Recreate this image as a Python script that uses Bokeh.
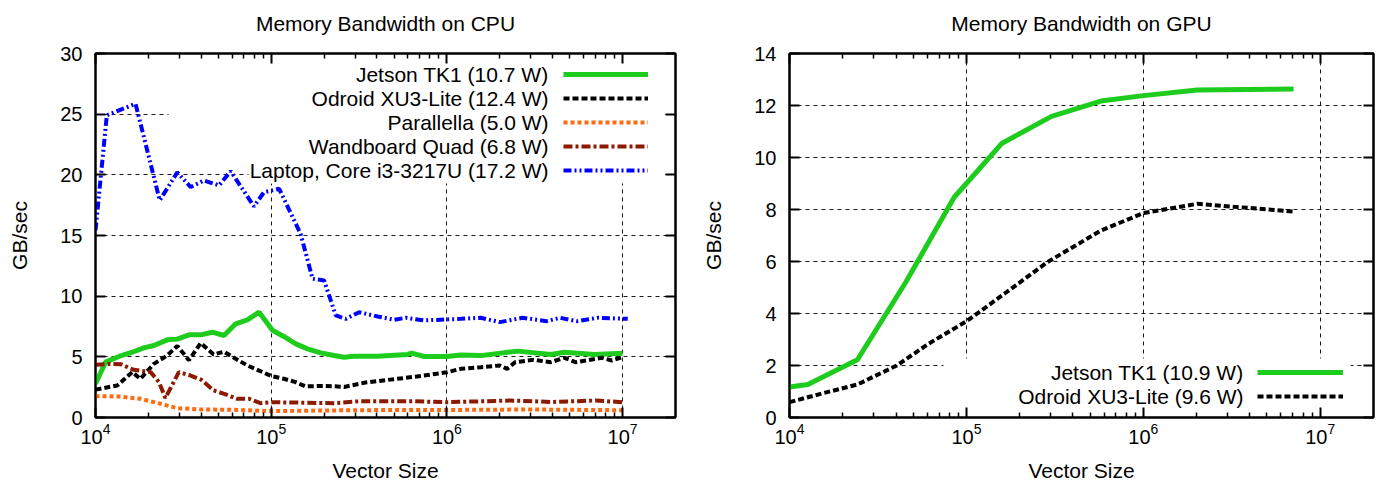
from bokeh.plotting import figure
from bokeh.layouts import row
from bokeh.models import (Range1d, FixedTicker, LogAxis, LinearAxis, LogTickFormatter, LogScale,
                          CustomJSTickFormatter, Legend, LegendItem, Label, BoxAnnotation, Grid)
from bokeh.embed import file_html
from bokeh.resources import INLINE

# ---------------- data ----------------
x_ticks = [1e4, 1e5, 1e6, 1e7]
x_minor = [m * d for d in [1e4, 1e5, 1e6, 1e7] for m in range(2, 10) if m * d < 2e7]
cpu_y_ticks = [0, 5, 10, 15, 20, 25, 30]
gpu_y_ticks = [0, 2, 4, 6, 8, 10, 12, 14]

cpu_titles = ["Jetson TK1 (10.7 W)", "Odroid XU3-Lite (12.4 W)", "Parallella (5.0 W)",
              "Wandboard Quad (6.8 W)", "Laptop, Core i3-3217U (17.2 W)"]
gpu_titles = ["Jetson TK1 (10.9 W)", "Odroid XU3-Lite (9.6 W)"]

cpu_jetson_x = [1e4, 1.14e4, 1.36e4, 1.62e4, 1.88e4, 2.15e4, 2.56e4, 2.92e4, 3.4e4, 3.97e4,
                4.62e4, 5.39e4, 6.28e4, 7.31e4, 8.53e4, 1.02e5, 1.18e5, 1.38e5, 1.61e5, 1.91e5,
                2.28e5, 2.6e5, 2.95e5, 4e5, 5.97e5, 6.3e5, 7.43e5, 1e6, 1.2e6, 1.56e6,
                2.53e6, 3.9e6, 4.66e6, 6.9e6, 1e7]
cpu_jetson_y = [2.78, 4.56, 5.03, 5.38, 5.74, 5.93, 6.4, 6.46, 6.81, 6.81,
                7.03, 6.76, 7.72, 8.05, 8.68, 7.17, 6.68, 6.07, 5.66, 5.33,
                5.11, 4.97, 5.05, 5.05, 5.2, 5.3, 5.03, 5.03, 5.15, 5.1,
                5.47, 5.19, 5.38, 5.19, 5.3]

cpu_odroid_x = [1e4, 1.33e4, 1.62e4, 1.8e4, 2.15e4, 2.56e4, 2.92e4, 3.4e4, 3.97e4, 4.7e4,
                5.39e4, 6.28e4, 7.31e4, 8.53e4, 1.0e5, 1.18e5, 1.38e5, 1.57e5, 1.91e5, 2.28e5,
                2.6e5, 3.5e5, 5.7e5, 7.4e5, 1e6, 1.2e6, 1.56e6, 2.0e6, 2.2e6, 2.45e6,
                3.1e6, 3.9e6, 4.66e6, 5.4e6, 7.6e6, 8.7e6, 1e7]
cpu_odroid_y = [2.3, 2.64, 3.74, 3.19, 4.42, 5.11, 5.9, 4.72, 6.13, 5.2,
                5.42, 4.84, 4.29, 3.87, 3.42, 3.19, 2.91, 2.56, 2.6, 2.58,
                2.52, 2.9, 3.25, 3.46, 3.73, 4.01, 4.15, 4.29, 4.01, 4.56,
                4.75, 4.56, 4.92, 4.56, 4.92, 4.7, 4.97]

cpu_parallella_x = [1e4, 1.36e4, 1.8e4, 2.35e4, 2.92e4, 4e4, 6.2e4, 1e5, 2e5, 5e5, 1e6, 3e6, 1e7]
cpu_parallella_y = [1.76, 1.73, 1.54, 1.13, 0.77, 0.66, 0.63, 0.52, 0.58, 0.62, 0.62, 0.66, 0.6]

cpu_wandboard_x = [1e4, 1.19e4, 1.4e4, 1.65e4, 2.06e4, 2.3e4, 2.5e4, 2.98e4, 3.48e4, 4e4,
                   4.7e4, 5.4e4, 6.4e4, 7.5e4, 8.7e4, 1.02e5, 2.3e5, 3.2e5, 6.3e5, 1e6,
                   2.3e6, 4e6, 7e6, 1e7]
cpu_wandboard_y = [4.34, 4.42, 4.38, 3.93, 3.74, 2.91, 1.6, 3.74, 3.46, 3.11,
                   2.23, 1.95, 1.54, 1.54, 1.18, 1.26, 1.18, 1.34, 1.34, 1.26,
                   1.4, 1.28, 1.4, 1.26]

cpu_laptop_x = [1e4, 1.16e4, 1.69e4, 2.32e4, 2.92e4, 3.48e4, 4.14e4, 5.05e4, 5.88e4, 7.98e4,
                9.1e4, 1.11e5, 1.47e5, 1.72e5, 2.0e5, 2.33e5, 2.66e5, 3.17e5, 4.03e5, 5.0e5,
                5.84e5, 7.4e5, 1.2e6, 1.56e6, 2.0e6, 2.7e6, 3.7e6, 4.4e6, 5.5e6, 7.2e6, 1.07e7]
cpu_laptop_y = [15.42, 24.9, 25.86, 17.9, 20.2, 18.99, 19.54, 19.13, 20.3, 17.4,
                18.57, 18.85, 15.14, 11.43, 11.3, 8.41, 8.13, 8.68, 8.33, 8.05,
                8.22, 8.0, 8.13, 8.22, 7.86, 8.22, 7.94, 8.22, 7.94, 8.22, 8.13]

gpu_jetson_x = [1e4, 1.27e4, 2.42e4, 4.54e4, 8.53e4, 1.59e5, 3.03e5, 5.75e5, 1e6, 2.02e6, 7.07e6]
gpu_jetson_y = [1.17, 1.27, 2.22, 5.2, 8.47, 10.55, 11.58, 12.17, 12.38, 12.6, 12.63]

gpu_odroid_x = [1e4, 1.5e4, 2.42e4, 4.04e4, 6.09e4, 1e5, 1.64e5, 2.86e5, 5.75e5, 1e6, 2.02e6, 7.07e6]
gpu_odroid_y = [0.59, 0.91, 1.27, 2.0, 2.83, 3.7, 4.76, 5.97, 7.19, 7.86, 8.22, 7.92]

# ---------------- styles ----------------
FONT = "Liberation Sans"
GREEN, BLACK, ORANGE, BROWN, BLUE = "#1ecc1e", "#000000", "#ff6a10", "#8b1a00", "#0000ff"
styles = [
    dict(line_color=GREEN, line_width=5, line_dash="solid"),
    dict(line_color=BLACK, line_width=4, line_dash="6 3"),
    dict(line_color=ORANGE, line_width=4, line_dash="4 3"),
    dict(line_color=BROWN, line_width=4, line_dash="9 3 3 3"),
    dict(line_color=BLUE, line_width=4, line_dash="8 3 2 3 2 3"),
]


def style_axis(ax):
    ax.axis_line_color = "black"
    ax.axis_line_width = 2
    ax.major_tick_in = 10
    ax.major_tick_out = 0
    ax.major_tick_line_width = 2
    ax.major_tick_line_color = "black"
    ax.minor_tick_in = 5
    ax.minor_tick_out = 0
    ax.minor_tick_line_width = 1.5
    ax.minor_tick_line_color = "black"
    ax.major_label_text_font = FONT
    ax.major_label_text_color = "black"
    ax.major_label_text_font_size = "20px"
    ax.axis_label_text_font = FONT
    ax.axis_label_text_font_size = "21px"
    ax.axis_label_text_font_style = "normal"
    ax.axis_label_text_color = "black"


def make_fig(title, y_max, y_ticks, left_border, right_border, width):
    xt = FixedTicker(ticks=x_ticks, minor_ticks=x_minor)
    yt = FixedTicker(ticks=y_ticks)
    p = figure(x_axis_type=None, y_axis_type=None,
               x_range=Range1d(1e4, 2e7), y_range=Range1d(0, y_max),
               width=width, height=485,
               min_border_left=left_border, min_border_right=right_border,
               min_border_top=53, min_border_bottom=68,
               output_backend="svg", toolbar_location=None)
    p.x_scale = LogScale()
    p.outline_line_color = "black"
    p.outline_line_width = 2
    p.background_fill_color = "white"
    p.border_fill_color = "white"

    # grids first (underlay), so the key boxes can cover them
    for dim, tk in ((0, xt), (1, yt)):
        p.add_layout(Grid(dimension=dim, ticker=tk, grid_line_color="black",
                          grid_line_width=1, grid_line_dash="4 4", grid_line_alpha=0.9))

    bottom = LogAxis(ticker=xt, formatter=LogTickFormatter(), axis_label="Vector Size")
    left = LinearAxis(ticker=yt, axis_label="GB/sec")
    blank = "return ''"
    # the mirrored top axis carries the plot title as its label
    top = LogAxis(ticker=xt, formatter=CustomJSTickFormatter(code=blank), axis_label=title)
    right = LinearAxis(ticker=yt, formatter=CustomJSTickFormatter(code=blank))
    for ax in (bottom, left, top, right):
        style_axis(ax)
    for ax in (left, right):
        ax.minor_tick_in = 0
    bottom.major_label_standoff = 5
    left.major_label_standoff = 13
    bottom.axis_label_standoff = 12
    left.axis_label_standoff = 26
    top.major_label_standoff = 0
    top.axis_label_standoff = 19
    right.major_label_standoff = 0
    p.add_layout(bottom, "below")
    p.add_layout(left, "left")
    p.add_layout(top, "above")
    p.add_layout(right, "right")
    return p


def add_key(p, renderers, titles, key_x, key_bottom, text_right, glyph_w, boxes):
    for (l, r, b, t) in boxes:
        p.add_layout(BoxAnnotation(left=l, right=r, bottom=b, top=t,
                                   left_units="screen", right_units="screen",
                                   bottom_units="screen", top_units="screen",
                                   fill_color="white", fill_alpha=1.0, line_color=None,
                                   level="underlay"))
    items = [LegendItem(label="", renderers=[r]) for r in renderers]
    leg = Legend(items=items, location=(key_x, key_bottom), glyph_width=glyph_w,
                 glyph_height=24, label_height=24, label_width=0, label_standoff=0,
                 spacing=0, padding=0, margin=0,
                 border_line_color=None, background_fill_alpha=0.0)
    p.add_layout(leg, "center")
    n = len(titles)
    for i, t in enumerate(titles):
        cy = key_bottom + 24 * (n - i) - 12
        p.add_layout(Label(x=text_right, y=cy, x_units="screen", y_units="screen", text=t,
                           text_align="right", text_baseline="middle",
                           text_font=FONT, text_font_size="21px", text_color="black"))


# ---------------- CPU ----------------
p1 = make_fig("Memory Bandwidth on CPU", 30, cpu_y_ticks, 95, 15, 690)
cpu_series = [(cpu_jetson_x, cpu_jetson_y), (cpu_odroid_x, cpu_odroid_y),
              (cpu_parallella_x, cpu_parallella_y), (cpu_wandboard_x, cpu_wandboard_y),
              (cpu_laptop_x, cpu_laptop_y)]
r1 = [p1.line(xs, ys, **st) for (xs, ys), st in zip(cpu_series, styles)]
add_key(p1, r1, cpu_titles, key_x=468, key_bottom=235, text_right=453, glyph_w=85,
        boxes=[(73, 570, 246, 359), (153, 570, 234, 246)])

# ---------------- GPU ----------------
p2 = make_fig("Memory Bandwidth on GPU", 14, gpu_y_ticks, 99, 12, 695)
gpu_series = [(gpu_jetson_x, gpu_jetson_y), (gpu_odroid_x, gpu_odroid_y)]
r2 = [p2.line(xs, ys, **st) for (xs, ys), st in zip(gpu_series, styles[:2])]
add_key(p2, r2, gpu_titles, key_x=468, key_bottom=9, text_right=454, glyph_w=86,
        boxes=[(154, 561, 6, 59)])

layout = row(p1, p2)
open("out.html", "w").write(file_html(layout, INLINE))
